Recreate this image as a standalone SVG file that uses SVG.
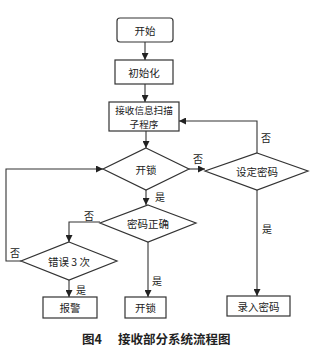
<svg xmlns="http://www.w3.org/2000/svg" width="317" height="358" viewBox="0 0 317 358">
<defs>
<marker id="ah" viewBox="0 0 10 10" refX="10" refY="5" markerWidth="7" markerHeight="7" markerUnits="userSpaceOnUse" orient="auto">
<path d="M0,0 L10,5 L0,10 z" fill="#222"/>
</marker>
</defs>
<style>
.n{fill:#fff;stroke:#333;stroke-width:1.2}
.t{font-family:"Noto Sans CJK SC","Noto Sans",sans-serif;font-size:10.5px;fill:#222;text-anchor:middle;dominant-baseline:central}
.s{font-size:9.6px}
.l{font-family:"Noto Sans CJK SC","Noto Sans",sans-serif;font-size:10px;fill:#222;dominant-baseline:central}
.c{fill:none;stroke:#333;stroke-width:1.1;marker-end:url(#ah)}
.cap{font-family:"Noto Sans CJK SC","Noto Sans",sans-serif;font-size:12.5px;font-weight:bold;fill:#222;dominant-baseline:central}
</style>
<rect width="317" height="358" fill="#fff"/>
<g id="connectors">
<path class="c" d="M145,42 V60"/>
<path class="c" d="M145,84 V102"/>
<path class="c" d="M146,131 V148"/>
<path class="c" d="M189,169 H205"/>
<path class="c" d="M257,153 V121 H179"/>
<path class="c" d="M257,190 V296"/>
<path class="c" d="M146,190 V205"/>
<path class="c" d="M148,242 V297"/>
<path class="c" d="M100,222 H69 V242"/>
<path class="c" d="M21,261 H6 V169 H103"/>
<path class="c" d="M69,280 V297"/>
</g>
<g id="labels">
<text class="l" x="193" y="158">否</text>
<text class="l" x="261" y="137">否</text>
<text class="l" x="155" y="196">是</text>
<text class="l" x="84" y="215">否</text>
<text class="l" x="10" y="252">否</text>
<text class="l" x="152" y="280">是</text>
<text class="l" x="76" y="289">是</text>
<text class="l" x="262" y="228">是</text>
</g>
<g id="n_start"><rect class="n" x="117" y="18" width="56" height="24" rx="3"/><text class="t" x="145" y="30">开始</text></g>
<g id="n_init"><rect class="n" x="115" y="60" width="58" height="24"/><text class="t" x="144" y="72">初始化</text></g>
<g id="n_scan"><rect class="n" x="109" y="102" width="70" height="29"/><text class="t s" x="144" y="109.5">接收信息扫描</text><text class="t s" x="144" y="123.5">子程序</text></g>
<g id="n_unlock_q"><polygon class="n" points="146,148 189,169 146,190 103,169"/><text class="t" x="146" y="169">开锁</text></g>
<g id="n_setpw"><polygon class="n" points="257,153 308,171 257,190 205,171"/><text class="t" x="257" y="171">设定密码</text></g>
<g id="n_pwok"><polygon class="n" points="148,205 196,223 148,242 100,223"/><text class="t" x="148" y="223">密码正确</text></g>
<g id="n_err3"><polygon class="n" points="69,242 117,261 69,280 21,261"/><text class="t" x="69" y="261">错误 3 次</text></g>
<g id="n_alarm"><rect class="n" x="43" y="297" width="54" height="21"/><text class="t" x="70" y="307.5">报警</text></g>
<g id="n_open"><rect class="n" x="125" y="297" width="41" height="21"/><text class="t" x="145.5" y="307.5">开锁</text></g>
<g id="n_enter"><rect class="n" x="227" y="296" width="63" height="20"/><text class="t" x="258.5" y="306">录入密码</text></g>
<text class="cap" x="82" y="338">图4</text>
<text class="cap" x="118" y="338">接收部分系统流程图</text>
</svg>
